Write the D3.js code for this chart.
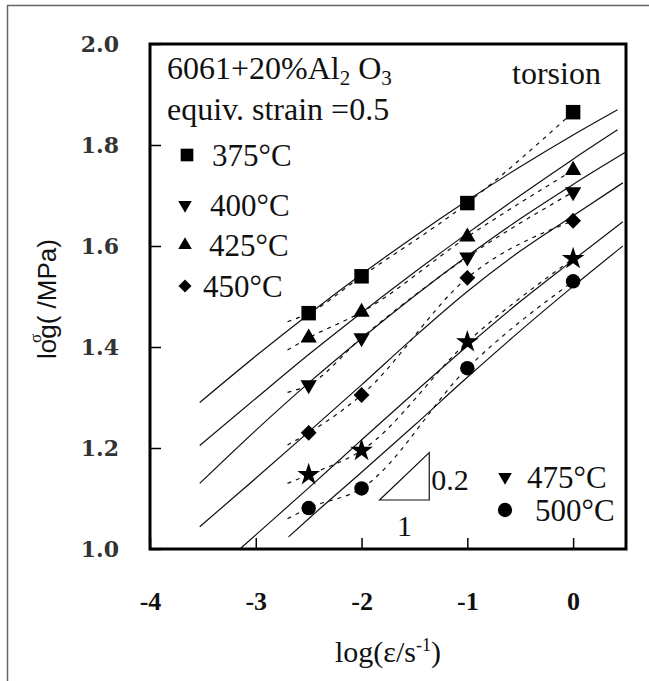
<!DOCTYPE html>
<html>
<head>
<meta charset="utf-8">
<script src="https://cdn.jsdelivr.net/npm/d3@7"></script>
<style>
  body { margin: 0; background: #fff; }
  svg { display: block; }
  .serif { font-family: 'Liberation Serif', 'Times New Roman', serif; fill: #111; }
</style>
</head>
<body>
<div id="chart"></div>
<script>
// strain rates used in the torsion tests, log(eps / s^-1)
const rates = [-2.5, -2, -1, 0];
const temps = ['375°C', '400°C', '425°C', '450°C', '475°C', '500°C'];

// measured log(sigma / MPa) per temperature
const stress375 = [1.467, 1.54, 1.685, 1.865];
const stress400 = [1.325, 1.418, 1.578, 1.707];
const stress425 = [1.418, 1.469, 1.618, 1.75];
const stress450 = [1.23, 1.305, 1.537, 1.65];
const stress475 = [1.147, 1.195, 1.41, 1.575];
const stress500 = [1.081, 1.12, 1.358, 1.53];

// left end of the dashed curves (at log rate -2.7)
const dashStartRate = -2.7;
const dashStart = [1.45, 1.31, 1.394, 1.206, 1.13, 1.06];

// solid model curves, [log rate, log stress]
const fit375 = [[-3.53, 1.29], [-3, 1.382], [-2.5, 1.465], [-2, 1.544], [-1.5, 1.619], [-1, 1.69], [-0.5, 1.757], [0, 1.82], [0.42, 1.87]];
const fit425 = [[-3.53, 1.205], [-3, 1.298], [-2.5, 1.385], [-2, 1.468], [-1.5, 1.548], [-1, 1.625], [-0.5, 1.70], [0, 1.772], [0.42, 1.83]];
const fit400 = [[-3.53, 1.13], [-3, 1.235], [-2.5, 1.329], [-2, 1.417], [-1.5, 1.501], [-1, 1.58], [-0.5, 1.654], [0, 1.722], [0.49, 1.785]];
const fit450 = [[-3.53, 1.044], [-3, 1.14], [-2.5, 1.232], [-2, 1.325], [-1.5, 1.42], [-1, 1.51], [-0.5, 1.59], [0, 1.66], [0.47, 1.725]];
const fit475 = [[-3.15, 1.0], [-3, 1.028], [-2.5, 1.121], [-2, 1.216], [-1.5, 1.31], [-1, 1.402], [-0.5, 1.49], [0, 1.572], [0.47, 1.648]];
const fit500 = [[-2.69, 1.024], [-2.5, 1.06], [-2, 1.152], [-1.5, 1.245], [-1, 1.34], [-0.5, 1.432], [0, 1.52], [0.47, 1.6]];

const xTicks = [-4, -3, -2, -1, 0];
const yTicks = [1.0, 1.2, 1.4, 1.6, 1.8, 2.0];

// slope guide: rise 0.2 over a run of 1 (drawn scaled)
const slopeX0 = -1.83, slopeRun = 0.47, slopeY0 = 1.097, slopeValue = 0.2;

const W = 649, H = 681;
const margin = {left: 150, top: 44, right: 23, bottom: 132};

const svg = d3.select('#chart').append('svg')
  .attr('width', W)
  .attr('height', H);

// outer frame of the scanned figure
svg.append('path')
  .attr('d', 'M7.5,' + H + 'V5.5H' + W)
  .attr('fill', 'none')
  .attr('stroke', '#666')
  .attr('stroke-width', 1.5);

let x = d3.scaleLinear().domain([-4, 0.5]).range([margin.left, W - margin.right]);
let y = d3.scaleLinear().domain([1.0, 2.0]).range([H - margin.bottom, margin.top]);

// clip the curves to the plot box
svg.append('clipPath').attr('id', 'plotclip')
  .append('rect')
  .attr('x', x(-4)).attr('y', y(2))
  .attr('width', x(0.5) - x(-4)).attr('height', y(1) - y(2));

let g = svg.append('g').attr('clip-path', 'url(#plotclip)');

let line = d3.line()
  .x((d) => x(d[0]))
  .y((d) => y(d[1]))
  .curve(d3.curveMonotoneX);

[fit375, fit425, fit400, fit450, fit475, fit500].forEach((f) => {
  g.append('path')
    .attr('d', line(f))
    .attr('fill', 'none')
    .attr('stroke', '#111')
    .attr('stroke-width', 1.2);
});

const series = [stress375, stress400, stress425, stress450, stress475, stress500];

series.forEach((s, i) => {
  let pts = [[dashStartRate, dashStart[i]]].concat(rates.map((r, j) => [r, s[j]]));
  g.append('path')
    .attr('d', line(pts))
    .attr('fill', 'none')
    .attr('stroke', '#111')
    .attr('stroke-width', 1.2)
    .attr('stroke-dasharray', '4,5');
});

// marker shapes, one per temperature
const shapes = [
  {type: d3.symbolSquare, size: 210, rotate: 0},
  {type: d3.symbolTriangle, size: 115, rotate: 180},
  {type: d3.symbolTriangle, size: 115, rotate: 0},
  {type: d3.symbolSquare, size: 125, rotate: 45},
  {type: d3.symbolStar, size: 160, rotate: 0},
  {type: d3.symbolCircle, size: 165, rotate: 0}
];

series.forEach((s, i) => {
  let sh = shapes[i];
  svg.selectAll('.mark' + i)
    .data(rates.map((r, j) => [r, s[j]]))
    .enter()
    .append('path')
    .attr('class', 'mark' + i)
    .attr('d', d3.symbol().type(sh.type).size(sh.size))
    .attr('transform', (d) => 'translate(' + x(d[0]) + ',' + y(d[1]) + ') rotate(' + sh.rotate + ')')
    .attr('fill', '#000');
});

// slope triangle
svg.append('path')
  .attr('d', 'M' + x(slopeX0) + ',' + y(slopeY0) +
    'H' + x(slopeX0 + slopeRun) +
    'V' + y(slopeY0 + slopeRun * slopeValue) + 'Z')
  .attr('fill', 'none')
  .attr('stroke', '#111')
  .attr('stroke-width', 1.2);

svg.append('text').attr('class', 'serif')
  .attr('x', x(slopeX0 + slopeRun) + 2).attr('y', y(slopeY0) - 10)
  .attr('font-size', 30)
  .text(slopeValue);

svg.append('text').attr('class', 'serif')
  .attr('x', x(slopeX0 + slopeRun / 2)).attr('y', y(slopeY0) + 36)
  .attr('text-anchor', 'middle')
  .attr('font-size', 30)
  .text('1');

// axes (ticks point inward)
let xAxis = d3.axisBottom(x).tickValues(xTicks).tickSizeInner(-11).tickSizeOuter(0).tickFormat((t) => t);
let yAxis = d3.axisLeft(y).tickValues(yTicks).tickSizeInner(-11).tickSizeOuter(0).tickFormat(d3.format('.1f'));

let gX = svg.append('g')
  .attr('transform', 'translate(0,' + y(1) + ')')
  .call(xAxis);
gX.selectAll('text')
  .attr('dy', null)
  .attr('y', 61)
  .attr('font-family', 'Liberation Serif, serif')
  .attr('font-weight', 'bold')
  .attr('font-size', 26)
  .attr('fill', '#111');

let gY = svg.append('g')
  .attr('transform', 'translate(' + x(-4) + ',0)')
  .call(yAxis);
gY.selectAll('text')
  .attr('x', -31)
  .attr('dy', '0.36em')
  .attr('font-family', 'DejaVu Serif, serif')
  .attr('font-weight', 'bold')
  .attr('font-size', 22)
  .attr('fill', '#333');

svg.selectAll('.tick line').attr('stroke', '#000').attr('stroke-width', 1.5);
svg.selectAll('.domain').remove();

// plot box
svg.append('rect')
  .attr('x', x(-4)).attr('y', y(2))
  .attr('width', x(0.5) - x(-4)).attr('height', y(1) - y(2))
  .attr('fill', 'none')
  .attr('stroke', '#000')
  .attr('stroke-width', 3);

// axis titles
svg.append('text').attr('class', 'serif')
  .attr('x', 388).attr('y', 662)
  .attr('text-anchor', 'middle')
  .attr('font-size', 30)
  .html('log(ε/s<tspan dy="-11" font-size="18">-1</tspan><tspan dy="11">)</tspan>');

let yTitle = svg.append('g')
  .attr('transform', 'translate(56,299) rotate(-90)');
yTitle.append('text')
  .attr('text-anchor', 'middle')
  .attr('font-family', 'Liberation Sans, Arial, sans-serif')
  .attr('font-size', 26)
  .attr('fill', '#111')
  .text('log(  /MPa)');
yTitle.append('text')
  .attr('x', -44).attr('y', -15)
  .attr('font-family', 'Liberation Serif, serif')
  .attr('font-size', 17)
  .attr('fill', '#111')
  .text('σ');

// header texts
svg.append('text').attr('class', 'serif')
  .attr('x', 167).attr('y', 79)
  .attr('font-size', 32)
  .html('6061+20%Al<tspan dy="6" font-size="21">2</tspan><tspan dy="-6"> O</tspan><tspan dy="6" font-size="21">3</tspan>');

svg.append('text').attr('class', 'serif')
  .attr('x', 167).attr('y', 120)
  .attr('font-size', 32)
  .text('equiv. strain =0.5');

svg.append('text').attr('class', 'serif')
  .attr('x', 512).attr('y', 84)
  .attr('font-size', 32)
  .text('torsion');

// legend, two blocks as in the figure
const legendPos = [
  {mx: 187, my: 155, tx: 212},
  {mx: 185, my: 205, tx: 210},
  {mx: 185, my: 245, tx: 209},
  {mx: 185, my: 286, tx: 203},
  {mx: 505, my: 477, tx: 527},
  {mx: 505, my: 510, tx: 535}
];
// the figure shows the 475 entry with a down triangle
const legendShapes = [
  {type: d3.symbolSquare, size: 160, rotate: 0},
  {type: d3.symbolTriangle, size: 80, rotate: 180},
  {type: d3.symbolTriangle, size: 80, rotate: 0},
  {type: d3.symbolSquare, size: 85, rotate: 45},
  {type: d3.symbolTriangle, size: 80, rotate: 180},
  {type: d3.symbolCircle, size: 160, rotate: 0}
];

temps.forEach((t, i) => {
  let p = legendPos[i], sh = legendShapes[i];
  svg.append('path')
    .attr('d', d3.symbol().type(sh.type).size(sh.size))
    .attr('transform', 'translate(' + p.mx + ',' + p.my + ') rotate(' + sh.rotate + ')')
    .attr('fill', '#000');
  svg.append('text').attr('class', 'serif')
    .attr('x', p.tx).attr('y', p.my + 11)
    .attr('font-size', 31)
    .text(t);
});
</script>
</body>
</html>
